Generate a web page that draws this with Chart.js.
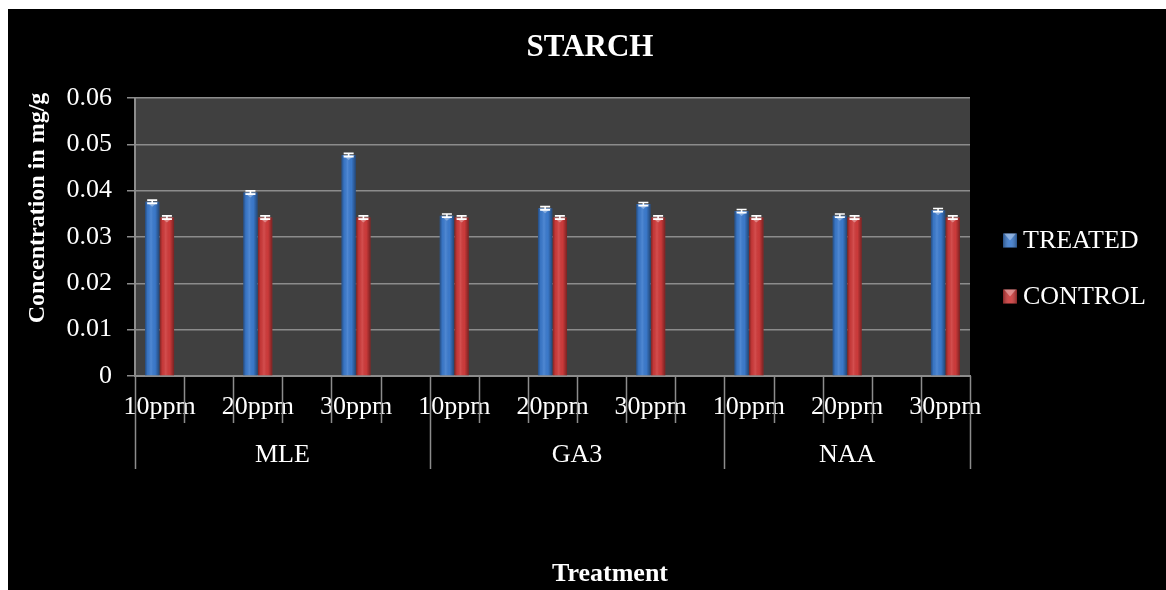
<!DOCTYPE html>
<html>
<head>
<meta charset="utf-8">
<title>STARCH</title>
<script src="https://cdn.jsdelivr.net/npm/chart.js@4/dist/chart.umd.min.js"></script>
<style>
  html, body { margin: 0; padding: 0; background: #ffffff; width: 1166px; height: 590px; overflow: hidden; }
  #wrap { position: absolute; left: 8px; top: 9px; width: 1158px; height: 581px; background: #000000; }
  canvas { display: block; }
</style>
</head>
<body>
<div id="wrap"><canvas id="chart" width="1158" height="581"></canvas></div>
<script>
// Treatment groups and doses
const groups = ['MLE', 'GA3', 'NAA'];
const doses = ['10ppm', '20ppm', '30ppm'];

// Starch concentration (mg/g), one value per group/dose in order
const treated = [0.0376, 0.0396, 0.0477, 0.0346, 0.0362, 0.0371, 0.0356, 0.0346, 0.0358];
const control = [0.0342, 0.0342, 0.0342, 0.0342, 0.0342, 0.0342, 0.0342, 0.0342, 0.0342];
const treatedErr = [0.00035, 0.00035, 0.00035, 0.00035, 0.00035, 0.00035, 0.00035, 0.00035, 0.00035];
const controlErr = [0.00035, 0.00035, 0.00035, 0.00035, 0.00035, 0.00035, 0.00035, 0.00035, 0.00035];

// Value axis ticks
const yTicks = [0, 0.01, 0.02, 0.03, 0.04, 0.05, 0.06];

const seriesNames = ['TREATED', 'CONTROL'];
const seriesColors = ['#3c7bce', '#cf3b3b'];

// Each dose occupies a slot followed by an empty spacer slot
const labels = [];
const slotTreated = [], slotControl = [], slotTreatedErr = [], slotControlErr = [];
const slotGroup = [];
groups.forEach((g, gi) => {
  doses.forEach((d, di) => {
    const k = gi * doses.length + di;
    labels.push(d); slotTreated.push(treated[k]); slotControl.push(control[k]);
    slotTreatedErr.push(treatedErr[k]); slotControlErr.push(controlErr[k]);
    slotGroup.push(gi);
    if (k < groups.length * doses.length - 1) {
      labels.push(''); slotTreated.push(null); slotControl.push(null);
      slotTreatedErr.push(null); slotControlErr.push(null);
      slotGroup.push(gi);
    }
  });
});

const SERIF = "'Liberation Serif', 'Times New Roman', serif";
const GRID = '#8c8c8c';

const boundaryPx = (xs, i) => xs.left + i * (xs.right - xs.left) / labels.length;

const decor = {
  id: 'decor',
  beforeDraw(chart) {
    const { ctx, chartArea: a } = chart;
    ctx.save();
    ctx.fillStyle = '#404040';
    ctx.fillRect(a.left, a.top, a.right - a.left, a.bottom - a.top);
    ctx.restore();
  },
  afterDatasetsDraw(chart) {
    const { ctx } = chart;
    const ys = chart.scales.y;
    const errs = [slotTreatedErr, slotControlErr];
    const vals = [slotTreated, slotControl];
    ctx.save();
    chart.data.datasets.forEach((ds, di) => {
      const meta = chart.getDatasetMeta(di);
      meta.data.forEach((bar, i) => {
        if (vals[di][i] == null) return;
        const { x, y, width, base } = bar.getProps(['x', 'y', 'width', 'base'], true);
        const l = x - width / 2, r = x + width / 2;
        // cylinder-like shading across the bar
        const g = ctx.createLinearGradient(l, 0, r, 0);
        g.addColorStop(0, 'rgba(0,0,0,0.38)');
        g.addColorStop(0.18, 'rgba(0,0,0,0.05)');
        g.addColorStop(0.42, 'rgba(255,255,255,0.10)');
        g.addColorStop(0.7, 'rgba(0,0,0,0.02)');
        g.addColorStop(1, 'rgba(0,0,0,0.42)');
        ctx.fillStyle = g;
        ctx.fillRect(l, y, width, base - y);
        // bevelled top
        ctx.fillStyle = 'rgba(255,255,255,0.35)';
        ctx.beginPath();
        ctx.moveTo(l + 1, y); ctx.lineTo(r - 1, y); ctx.lineTo(x, y + 5); ctx.closePath();
        ctx.fill();
        // error bar
        const e = errs[di][i];
        const y1 = ys.getPixelForValue(vals[di][i] + e);
        const y2 = ys.getPixelForValue(vals[di][i] - e);
        ctx.strokeStyle = '#ffffff';
        ctx.lineWidth = 1.6;
        ctx.beginPath();
        ctx.moveTo(x, y1); ctx.lineTo(x, y2);
        ctx.moveTo(x - 5, y1); ctx.lineTo(x + 5, y1);
        ctx.moveTo(x - 5, y2); ctx.lineTo(x + 5, y2);
        ctx.stroke();
      });
    });
    ctx.restore();
  },
  afterDraw(chart) {
    const { ctx, chartArea: a } = chart;
    const xs = chart.scales.x;
    ctx.save();
    // category tick marks and group separators below the axis
    ctx.strokeStyle = GRID;
    ctx.lineWidth = 1.5;
    const groupStarts = new Set();
    groups.forEach((g, gi) => groupStarts.add(slotGroup.indexOf(gi)));
    for (let i = 0; i <= labels.length; i++) {
      const px = Math.round(boundaryPx(xs, i)) + 0.5;
      const long = groupStarts.has(i) || i === labels.length;
      ctx.beginPath();
      ctx.moveTo(px, a.bottom);
      ctx.lineTo(px, a.bottom + (long ? 93 : 47));
      ctx.stroke();
    }
    // group names
    ctx.fillStyle = '#ffffff';
    ctx.font = '26px ' + SERIF;
    ctx.textAlign = 'center';
    ctx.textBaseline = 'middle';
    groups.forEach((g, gi) => {
      const s = slotGroup.indexOf(gi);
      const e = slotGroup.lastIndexOf(gi) + 1;
      ctx.fillText(g, (boundaryPx(xs, s) + boundaryPx(xs, e)) / 2, a.bottom + 79);
    });
    // chart title
    ctx.font = 'bold 31px ' + SERIF;
    ctx.fillText('STARCH', 582, 39);
    // axis titles
    ctx.font = 'bold 26px ' + SERIF;
    ctx.fillText('Treatment', 602, 565);
    ctx.save();
    ctx.translate(30, 199);
    ctx.rotate(-Math.PI / 2);
    ctx.font = 'bold 24px ' + SERIF;
    ctx.fillText('Concentration in mg/g', 0, 0);
    ctx.restore();
    // legend
    const items = [231.5, 287.5];
    seriesNames.forEach((name, si) => {
      const cy = items[si];
      const lx = 995, sz = 14;
      ctx.fillStyle = seriesColors[si];
      ctx.fillRect(lx, cy - sz / 2, sz, sz);
      const g = ctx.createLinearGradient(lx, 0, lx + sz, 0);
      g.addColorStop(0, 'rgba(0,0,0,0.35)');
      g.addColorStop(0.5, 'rgba(255,255,255,0.08)');
      g.addColorStop(1, 'rgba(0,0,0,0.35)');
      ctx.fillStyle = g;
      ctx.fillRect(lx, cy - sz / 2, sz, sz);
      ctx.fillStyle = 'rgba(255,255,255,0.35)';
      ctx.beginPath();
      ctx.moveTo(lx + 1, cy - sz / 2); ctx.lineTo(lx + sz - 1, cy - sz / 2); ctx.lineTo(lx + sz / 2, cy); ctx.closePath();
      ctx.fill();
      ctx.fillStyle = '#ffffff';
      ctx.font = '26px ' + SERIF;
      ctx.textAlign = 'left';
      ctx.fillText(name, 1015, cy + 1);
    });
    ctx.restore();
  }
};

new Chart(document.getElementById('chart'), {
  type: 'bar',
  data: {
    labels: labels,
    datasets: [
      { label: seriesNames[0], data: slotTreated, backgroundColor: seriesColors[0], borderWidth: 0 },
      { label: seriesNames[1], data: slotControl, backgroundColor: seriesColors[1], borderWidth: 0 }
    ]
  },
  options: {
    responsive: false,
    animation: false,
    devicePixelRatio: 1,
    layout: { padding: { top: 89, right: 196, bottom: 0, left: 0 } },
    datasets: { bar: { categoryPercentage: 0.6, barPercentage: 0.97 } },
    plugins: {
      legend: { display: false },
      title: { display: false },
      tooltip: { enabled: false }
    },
    scales: {
      x: {
        grid: { drawOnChartArea: false, drawTicks: false, color: 'rgba(0,0,0,0)' },
        border: { display: true, color: GRID, width: 2 },
        ticks: {
          color: '#ffffff',
          font: { family: SERIF, size: 26 },
          maxRotation: 0, minRotation: 0, autoSkip: false, padding: 16
        },
        afterFit(scale) { scale.height = 214; }
      },
      y: {
        min: 0, max: 0.06,
        afterBuildTicks(scale) { scale.ticks = yTicks.map(v => ({ value: v })); },
        grid: { color: GRID, lineWidth: 1.5, tickLength: 8, drawTicks: true },
        border: { display: true, color: GRID, width: 2 },
        ticks: {
          color: '#ffffff',
          font: { family: SERIF, size: 26 },
          padding: 15,
          callback: v => (v === 0 ? '0' : v.toFixed(2))
        },
        afterFit(scale) { scale.width = 127; }
      }
    }
  },
  plugins: [decor]
});
</script>
</body>
</html>
